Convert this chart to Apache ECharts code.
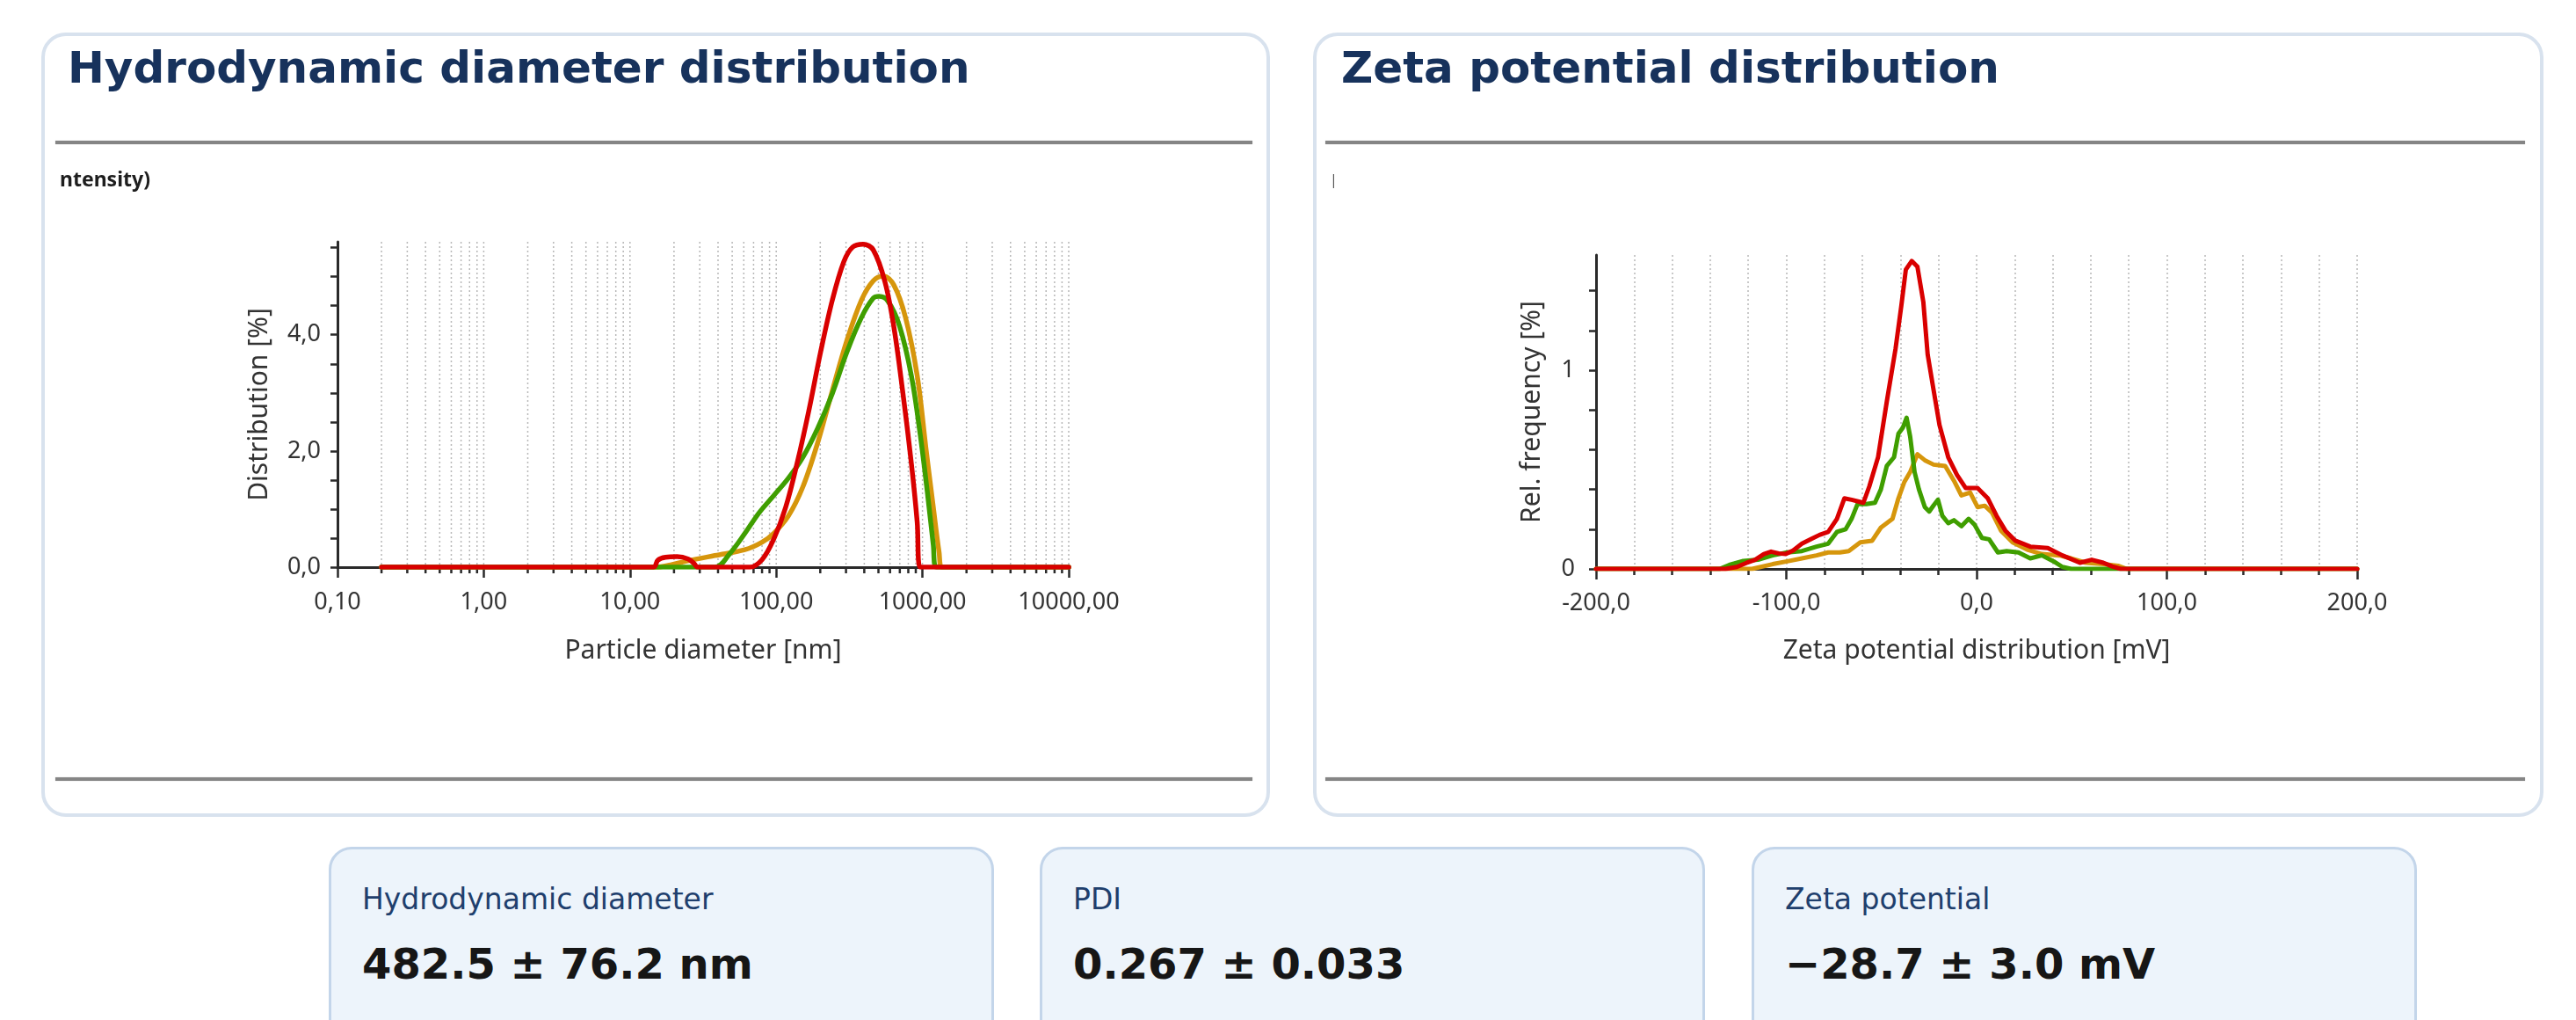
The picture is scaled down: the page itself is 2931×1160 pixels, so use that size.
<!DOCTYPE html>
<html lang="en">
  <head>
    <meta charset="UTF-8" />
    <title>DLS report</title>
    <script src="https://cdn.jsdelivr.net/npm/echarts@6.0.0/dist/echarts.min.js"></script>
    <style>
      body { margin: 0; background: #fff; font-family: "DejaVu Sans", sans-serif; }
      #page { position: relative; width: 2931px; height: 1160px; overflow: hidden; }
      .card { position: absolute; top: 37px; height: 892px; box-sizing: border-box;
              border: 4px solid #d8e2ee; border-radius: 28px; background: #fff; }
      .title { position: absolute; top: 52px; font-size: 50px; line-height: 50px;
               font-weight: bold; color: #17325c; white-space: nowrap; }
      .rule { position: absolute; height: 4px; background: #858585; box-shadow: 0 0 1px #999; }
      .chart { position: absolute; top: 168px; width: 1380px; height: 712px; }
      .stat { position: absolute; top: 963px; width: 757px; height: 240px; box-sizing: border-box;
              background: #edf4fb; border: 3px solid #c3d5ea; border-radius: 26px; }
      .stat .lab { position: absolute; left: 35px; top: 40px; font-size: 33px; line-height: 33px;
                   color: #1f3f6d; white-space: nowrap; }
      .stat .val { position: absolute; left: 35px; top: 106px; font-size: 48px; line-height: 48px;
                   font-weight: bold; color: #161616; white-space: nowrap; }
    </style>
  </head>
  <body>
    <div id="page">
      <div class="card" style="left: 47px; width: 1398px"></div>
      <div class="card" style="left: 1494px; width: 1400px"></div>
      <div class="title" style="left: 77px">Hydrodynamic diameter distribution</div>
      <div class="title" style="left: 1526px">Zeta potential distribution</div>
      <div class="rule" style="left: 63px; width: 1362px; top: 160px"></div>
      <div class="rule" style="left: 63px; width: 1362px; top: 884px"></div>
      <div class="rule" style="left: 1508px; width: 1365px; top: 160px"></div>
      <div class="rule" style="left: 1508px; width: 1365px; top: 884px"></div>
      <div id="sizeChart" class="chart" style="left: 55px"></div>
      <div id="zetaChart" class="chart" style="left: 1502px"></div>
      <div class="stat" style="left: 374px">
        <div class="lab">Hydrodynamic diameter</div>
        <div class="val">482.5 ± 76.2 nm</div>
      </div>
      <div class="stat" style="left: 1183px">
        <div class="lab">PDI</div>
        <div class="val">0.267 ± 0.033</div>
      </div>
      <div class="stat" style="left: 1993px">
        <div class="lab">Zeta potential</div>
        <div class="val">−28.7 ± 3.0 mV</div>
      </div>
    </div>
    <script type="text/javascript">
      var FONT = "Noto Sans";
      var AXIS_COLOR = "#2a2a2a";
      var GRID_COLOR = "#b8b8b8";
      var colors = { red: "#d90000", green: "#3f9e00", orange: "#d6960c" };

      // particle size distribution, [diameter nm, distribution %]
      var sizeRed = [
        [0.2, 0], [14.5, 0], [15.5, 0.12], [17.5, 0.17], [21, 0.18], [25, 0.14], [27.5, 0.06], [29, 0],
        [66, 0], [80, 0.13], [96, 0.48], [116, 1.03], [139, 1.79], [167, 2.69], [201, 3.7],
        [242, 4.6], [290, 5.26], [333, 5.51], [393, 5.56], [461, 5.46], [554, 4.91], [636, 4.15],
        [731, 3.04], [839, 1.79], [920, 0.78], [964, 0], [10000, 0]
      ];
      var sizeGreen = [
        [0.2, 0], [38, 0], [48, 0.23], [61, 0.58], [76, 0.93], [96, 1.23], [121, 1.53], [152, 1.89],
        [192, 2.39], [242, 2.99], [304, 3.7], [383, 4.3], [461, 4.63], [505, 4.66], [580, 4.58],
        [697, 4.15], [839, 3.3], [964, 2.29], [1081, 1.28], [1186, 0.38], [1241, 0], [10000, 0]
      ];
      var sizeOrange = [
        [0.2, 0], [15, 0], [19, 0.04], [24, 0.1], [38, 0.2], [61, 0.3], [80, 0.43], [96, 0.58],
        [121, 0.88], [152, 1.38], [192, 2.14], [242, 3.04], [304, 3.9], [383, 4.6], [461, 4.93],
        [541, 5.01], [636, 4.86], [765, 4.3], [920, 3.3], [1057, 2.04], [1186, 1.03], [1300, 0.25],
        [1361, 0], [10000, 0]
      ];

      // zeta potential distribution, [mV, rel. frequency %]
      var zetaRed = [
        [-200, 0], [-132, 0], [-126, 0.01], [-121, 0.03], [-116.4, 0.046], [-111.8, 0.075], [-108, 0.087],
        [-104, 0.078], [-100.3, 0.075], [-96.4, 0.093], [-91.8, 0.127], [-87.2, 0.149], [-82.6, 0.171],
        [-78, 0.186], [-73.4, 0.252], [-69.5, 0.355], [-65.7, 0.348], [-59.5, 0.333], [-56.4, 0.415],
        [-51.8, 0.562], [-47.2, 0.842], [-42.6, 1.108], [-39.5, 1.329], [-37.2, 1.506], [-34.1, 1.55],
        [-31.1, 1.521], [-28, 1.344], [-25.7, 1.078], [-22.6, 0.9], [-19.5, 0.724], [-14.9, 0.562],
        [-10.3, 0.473], [-5.7, 0.407], [0.5, 0.407], [5.9, 0.355], [10.5, 0.267], [15.1, 0.193],
        [20.4, 0.142], [28.2, 0.112], [37.4, 0.105], [45.1, 0.068], [54.3, 0.031], [60.5, 0.046],
        [66.6, 0.031], [71.2, 0.013], [75.8, 0], [200, 0]
      ];
      var zetaGreen = [
        [-200, 0], [-135, 0], [-130, 0.02], [-122.6, 0.04], [-114.9, 0.046], [-107.2, 0.068],
        [-99.5, 0.083], [-91.8, 0.09], [-84.1, 0.112], [-78, 0.127], [-73.4, 0.186], [-68.8, 0.2],
        [-65.7, 0.252], [-62.6, 0.326], [-58, 0.326], [-53.4, 0.333], [-50.3, 0.4], [-47.2, 0.518],
        [-43.4, 0.562], [-41.1, 0.68], [-38.8, 0.71], [-36.8, 0.761], [-34.9, 0.665], [-32.6, 0.488],
        [-30.3, 0.4], [-27.2, 0.311], [-24.9, 0.289], [-22.6, 0.32], [-20.3, 0.348], [-18, 0.267],
        [-14.9, 0.23], [-11.9, 0.245], [-8, 0.215], [-4.2, 0.252], [-1.1, 0.223], [2.8, 0.156],
        [6.6, 0.149], [11.2, 0.083], [15.8, 0.09], [22, 0.083], [28.2, 0.053], [34.3, 0.068],
        [40.5, 0.038], [45.1, 0.01], [49.7, 0], [200, 0]
      ];
      var zetaOrange = [
        [-200, 0], [-118, 0], [-107.2, 0.024], [-99.5, 0.038], [-91.8, 0.053], [-84.1, 0.068],
        [-78, 0.083], [-71.9, 0.083], [-67.2, 0.09], [-61.1, 0.134], [-54.9, 0.142], [-50.3, 0.208],
        [-44.2, 0.252], [-41.1, 0.355], [-38, 0.437], [-34.9, 0.488], [-31.1, 0.577], [-27.2, 0.547],
        [-22.6, 0.525], [-16.5, 0.518], [-11.9, 0.444], [-8, 0.37], [-3.4, 0.385], [0.5, 0.311],
        [4.3, 0.318], [8.2, 0.282], [12.8, 0.193], [18.9, 0.134], [26.6, 0.097], [34.3, 0.075],
        [43.5, 0.068], [49.7, 0.053], [57.4, 0.031], [66.6, 0.024], [74.3, 0.016], [78.9, 0], [200, 0]
      ];

      // axis ticks / labels
      var sizeYTicks = [0, 0.5, 1, 1.5, 2, 2.5, 3, 3.5, 4, 4.5, 5, 5.5];
      var sizeYLabels = [0, 2, 4];
      var zetaYTicks = [0, 0.2, 0.4, 0.6, 0.8, 1, 1.2, 1.4];
      var zetaYLabels = [0, 1];
      var SIZE_Y_MAX = 5.6;
      var ZETA_Y_MAX = 1.58;

      // dotted grid at 2..9 x every decade of the log axis
      var sizeGridLines = [];
      [0.1, 1, 10, 100, 1000].forEach(function (d) {
        for (var k = 2; k <= 10; k++) sizeGridLines.push([k * d, 0]);
      });

      function comma(v, digits) {
        return v.toFixed(digits).replace(".", ",");
      }

      function axisText(size) {
        return { fontFamily: FONT, fontSize: size, color: "#333" };
      }

      function curve(data, color, width, smooth) {
        return {
          type: "line",
          data: data,
          showSymbol: false,
          smooth: smooth,
          z: 3,
          lineStyle: { color: color, width: width, join: "round", cap: "round" },
          itemStyle: { color: color },
        };
      }

      var sizeChart = echarts.init(document.getElementById("sizeChart"));
      sizeChart.setOption({
        animation: false,
        title: {
          text: "ntensity)",
          left: 8,
          top: 21,
          textStyle: { fontFamily: FONT, fontSize: 23, fontWeight: "bold", color: "#1e1e1e" },
        },
        grid: { left: 329, top: 107, width: 832, height: 370 },
        xAxis: {
          type: "log",
          logBase: 10,
          min: 0.1,
          max: 10000,
          name: "Particle diameter [nm]",
          nameLocation: "middle",
          nameGap: 80,
          nameTextStyle: axisText(30),
          axisLine: { lineStyle: { color: AXIS_COLOR, width: 3 } },
          axisTick: { length: 12, lineStyle: { color: AXIS_COLOR, width: 2.5 } },
          axisLabel: Object.assign({ margin: 27, formatter: function (v) { return comma(v, 2); } }, axisText(27)),
          splitLine: { show: false },
        },
        yAxis: {
          type: "value",
          min: 0,
          max: SIZE_Y_MAX,
          name: "Distribution [%]",
          nameLocation: "middle",
          nameGap: 74,
          nameTextStyle: axisText(30),
          axisLine: { show: true, onZero: false, lineStyle: { color: AXIS_COLOR, width: 3 } },
          axisTick: { show: true, customValues: sizeYTicks, length: 8, lineStyle: { color: AXIS_COLOR, width: 2.5 } },
          axisLabel: Object.assign({ customValues: sizeYLabels, margin: 19, formatter: function (v) { return comma(v, 1); } }, axisText(27)),
          splitLine: { show: false },
        },
        series: [
          {
            type: "custom",
            data: sizeGridLines,
            encode: { x: 0, y: 1 },
            silent: true,
            z: 1,
            renderItem: function (params, api) {
              var x = api.value(0);
              var top = api.coord([x, SIZE_Y_MAX]);
              var bot = api.coord([x, 0]);
              var lg = Math.log10(x);
              var children = [
                {
                  type: "line",
                  shape: { x1: top[0], y1: top[1], x2: bot[0], y2: bot[1] },
                  style: { stroke: GRID_COLOR, lineWidth: 1.5, lineDash: [2, 3] },
                },
              ];
              if (Math.abs(lg - Math.round(lg)) > 1e-6) {
                children.push({
                  type: "line",
                  shape: { x1: bot[0], y1: bot[1], x2: bot[0], y2: bot[1] + 7 },
                  style: { stroke: AXIS_COLOR, lineWidth: 2.5 },
                });
              }
              return { type: "group", children: children };
            },
          },
          curve(sizeOrange, colors.orange, 5.5, 0.35),
          curve(sizeGreen, colors.green, 5.5, 0.35),
          curve(sizeRed, colors.red, 5.5, 0.35),
        ],
      });

      var dotted = { type: [2, 3], color: GRID_COLOR, width: 1.5 };
      var zetaChart = echarts.init(document.getElementById("zetaChart"));
      zetaChart.setOption({
        animation: false,
        title: {
          text: "|",
          left: 6,
          top: 24,
          textStyle: { fontFamily: FONT, fontSize: 16, fontWeight: "normal", color: "#555" },
        },
        grid: { left: 314, top: 122, width: 866, height: 357 },
        xAxis: {
          type: "value",
          min: -200,
          max: 200,
          interval: 100,
          name: "Zeta potential distribution [mV]",
          nameLocation: "middle",
          nameGap: 78,
          nameTextStyle: axisText(30),
          axisLine: { onZero: false, lineStyle: { color: AXIS_COLOR, width: 3 } },
          axisTick: { length: 12, lineStyle: { color: AXIS_COLOR, width: 2.5 } },
          minorTick: { show: true, splitNumber: 5, length: 7, lineStyle: { color: AXIS_COLOR, width: 2.5 } },
          axisLabel: Object.assign({ margin: 26, formatter: function (v) { return comma(v, 1); } }, axisText(27)),
          splitLine: { show: true, lineStyle: dotted },
          minorSplitLine: { show: true, lineStyle: dotted },
        },
        yAxis: {
          type: "value",
          min: 0,
          max: ZETA_Y_MAX,
          name: "Rel. frequency [%]",
          nameLocation: "middle",
          nameGap: 58,
          nameTextStyle: axisText(30),
          axisLine: { show: true, onZero: false, lineStyle: { color: AXIS_COLOR, width: 3 } },
          axisTick: { show: true, customValues: zetaYTicks, length: 8, lineStyle: { color: AXIS_COLOR, width: 2.5 } },
          axisLabel: Object.assign({ customValues: zetaYLabels, margin: 24 }, axisText(27)),
          splitLine: { show: false },
        },
        series: [
          curve(zetaOrange, colors.orange, 5, false),
          curve(zetaGreen, colors.green, 5, false),
          curve(zetaRed, colors.red, 5, false),
        ],
      });
    </script>
  </body>
</html>
